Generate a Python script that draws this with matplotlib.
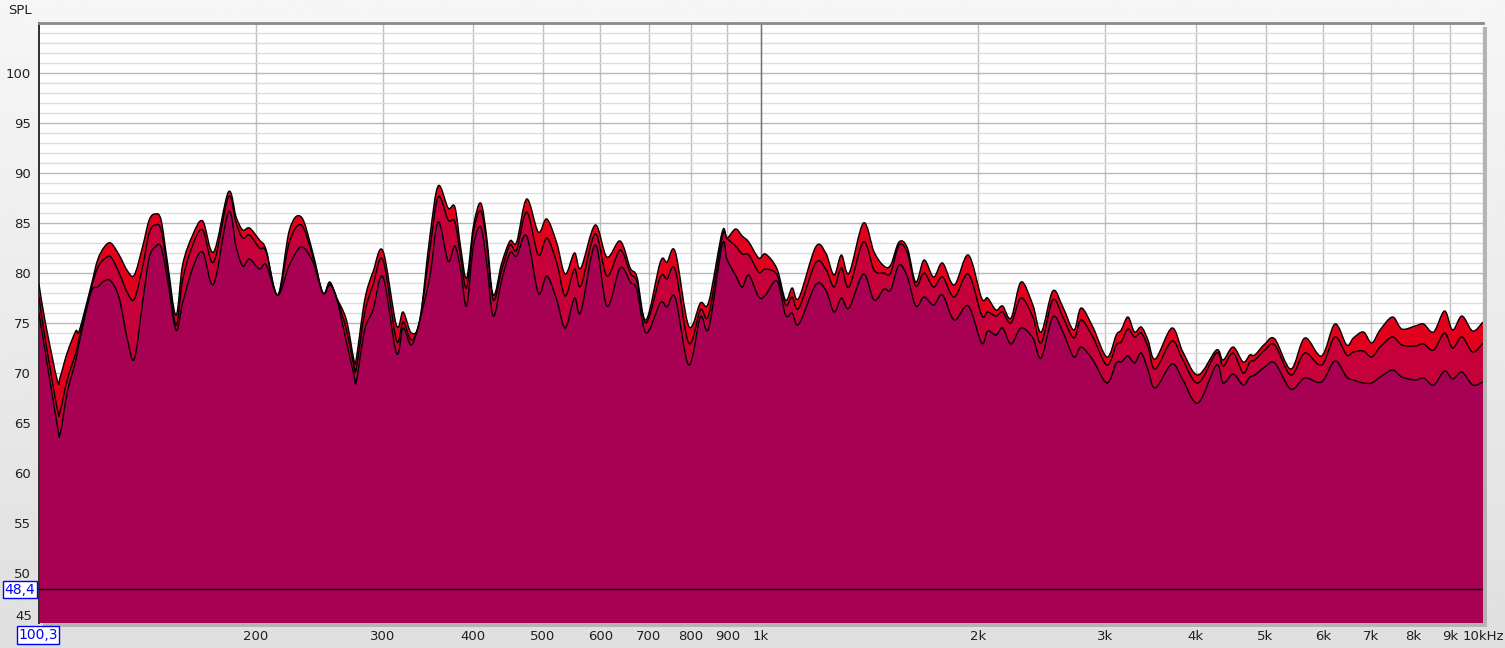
import matplotlib
matplotlib.use("Agg")
import matplotlib.pyplot as plt
from matplotlib.path import Path
from matplotlib.patches import PathPatch, Rectangle
import numpy as np

# Frequencies (Hz) and SPL (dB) of the three traces.
freq = [100.3, 102.2, 106.3, 107.3, 109.7, 112.8, 114.0, 118.3, 120.9, 123.5,
        126.1, 129.5, 133.0, 135.9, 139.5, 142.5, 145.3, 148.0, 151.1, 155.2,
        158.5, 163.7, 169.0, 175.0, 183.4, 188.0, 192.0, 196.2, 202.5, 206.9,
        214.7, 222.8, 231.4, 240.1, 247.9, 253.3, 258.7, 267.2, 273.7, 275.8,
        283.2, 290.8, 300.2, 313.3, 320.1, 328.7, 337.6, 348.5, 357.9, 369.5,
        377.5, 384.5, 391.9, 400.3, 409.8, 417.8, 426.6, 438.3, 450.0, 459.7,
        474.6, 492.5, 506.0, 522.4, 536.5, 552.6, 564.0, 590.4, 612.9, 639.3,
        660.2, 674.5, 694.2, 726.6, 742.3, 762.2, 795.4, 825.6, 847.8, 885.0,
        899.1, 923.3, 943.3, 963.2, 994.3, 1016, 1054, 1083, 1106, 1130,
        1192, 1231, 1264, 1294, 1326, 1388, 1436, 1482, 1514, 1555,
        1597, 1640, 1684, 1736, 1786, 1854, 1939, 2023, 2062, 2118,
        2163, 2222, 2294, 2382, 2446, 2538, 2621, 2714, 2778, 2884,
        3016, 3107, 3157, 3225, 3294, 3365, 3438, 3519, 3710, 3843,
        4032, 4276, 4368, 4510, 4656, 4756, 4832, 4989, 5150, 5420,
        5667, 5978, 6238, 6476, 6616, 6831, 7015, 7203, 7494, 7720,
        8054, 8274, 8543, 8847, 9076, 9351, 9677, 10000]

spl_top = [78.9, 75.3, 69.3, 69.6, 72.0, 74.2, 74.2, 78.6, 81.3, 82.6,
           83.0, 81.8, 80.2, 79.8, 82.6, 85.3, 85.9, 85.3, 81.0, 75.8,
           80.8, 83.8, 85.2, 82.1, 88.1, 85.6, 84.3, 84.5, 83.3, 82.3,
           77.8, 84.3, 85.6, 82.0, 78.0, 79.1, 77.6, 75.3, 71.3, 71.5,
           77.3, 80.1, 82.2, 74.8, 76.1, 74.0, 75.3, 83.6, 88.7, 86.5,
           86.6, 82.6, 79.5, 84.6, 87.0, 83.6, 77.8, 81.0, 83.2, 83.1,
           87.4, 84.1, 85.4, 83.0, 79.9, 82.0, 80.5, 84.8, 81.6, 83.2,
           80.5, 79.6, 75.3, 81.1, 81.1, 82.1, 74.7, 77.0, 77.1, 84.1,
           83.5, 84.4, 83.7, 83.1, 81.5, 81.9, 80.4, 77.3, 78.5, 77.5,
           82.6, 82.0, 79.8, 81.8, 80.0, 85.0, 82.1, 80.7, 80.8, 83.1,
           82.5, 79.1, 81.3, 79.6, 81.0, 78.8, 81.8, 77.5, 77.5, 76.3,
           76.7, 75.5, 79.1, 76.8, 74.1, 78.2, 76.6, 74.3, 76.5, 74.6,
           71.6, 73.8, 74.3, 75.6, 74.1, 74.6, 73.3, 71.4, 74.5, 72.1,
           69.8, 72.3, 71.3, 72.6, 71.1, 71.8, 71.8, 72.9, 73.4, 70.4,
           73.5, 71.7, 74.9, 72.8, 73.5, 74.1, 73.0, 74.3, 75.6, 74.4,
           74.7, 74.9, 74.1, 76.2, 74.3, 75.7, 74.2, 75.1]

spl_mid = [77.6, 73.6, 66.4, 66.2, 69.3, 72.0, 73.5, 78.3, 80.5, 81.4,
           81.6, 80.0, 78.0, 77.4, 80.6, 84.0, 84.8, 84.3, 80.3, 74.8,
           79.3, 82.8, 84.3, 81.1, 87.6, 85.0, 83.5, 83.8, 82.5, 82.1,
           77.8, 83.1, 84.8, 81.6, 78.0, 79.0, 77.6, 74.3, 70.7, 70.5,
           76.0, 78.8, 81.3, 73.3, 75.1, 73.3, 75.3, 82.3, 87.6, 85.3,
           85.1, 81.6, 78.5, 84.0, 86.2, 83.0, 77.3, 80.3, 82.8, 82.3,
           86.1, 81.8, 83.5, 81.0, 77.7, 80.4, 78.7, 83.9, 79.7, 82.3,
           80.0, 79.1, 75.0, 79.6, 79.4, 80.3, 73.0, 76.3, 75.8, 83.6,
           83.4, 82.7, 81.9, 81.8, 80.1, 80.4, 79.8, 76.8, 77.6, 76.5,
           81.0, 80.4, 78.6, 80.5, 78.6, 83.1, 80.3, 80.0, 80.0, 82.8,
           82.0, 78.7, 80.0, 78.6, 79.6, 77.6, 79.9, 75.8, 76.1, 75.7,
           76.1, 75.0, 77.5, 75.6, 73.0, 77.3, 75.6, 73.5, 75.3, 73.6,
           70.8, 72.8, 73.1, 74.4, 73.6, 74.0, 72.6, 70.4, 73.2, 71.3,
           69.0, 72.0, 70.7, 72.0, 70.0, 71.1, 71.3, 72.3, 72.8, 69.8,
           72.0, 70.8, 73.6, 71.8, 72.1, 72.2, 71.6, 72.6, 73.6, 72.8,
           72.7, 72.9, 72.3, 74.0, 72.5, 73.6, 72.1, 73.0]

spl_bot = [76.0, 72.3, 64.8, 63.9, 68.0, 71.3, 73.0, 78.0, 78.6, 79.2,
           79.2, 77.5, 73.3, 71.4, 77.0, 81.5, 82.6, 82.6, 79.3, 74.3,
           77.0, 80.5, 82.1, 78.9, 86.1, 82.6, 80.7, 81.4, 80.4, 80.8,
           77.8, 80.8, 82.6, 81.1, 78.0, 78.8, 77.6, 73.1, 69.8, 69.2,
           74.3, 76.3, 79.6, 72.0, 74.5, 72.8, 75.3, 79.6, 85.1, 81.2,
           82.7, 80.3, 76.7, 82.6, 84.6, 81.0, 75.7, 79.3, 82.0, 81.7,
           83.7, 78.0, 79.7, 77.3, 74.5, 77.5, 76.1, 82.8, 76.7, 80.5,
           79.1, 78.3, 74.0, 77.0, 76.6, 77.5, 70.8, 75.6, 74.5, 82.8,
           81.3, 79.8, 78.6, 79.8, 77.6, 77.8, 79.2, 75.8, 76.0, 74.9,
           78.8, 78.3, 76.1, 77.5, 76.5, 79.9, 77.3, 78.4, 78.3, 80.8,
           79.6, 76.7, 77.6, 76.8, 77.8, 75.3, 76.7, 73.0, 74.2, 73.8,
           74.5, 72.9, 74.5, 73.5, 71.5, 75.6, 74.1, 71.6, 72.6, 71.3,
           69.0, 71.0, 71.1, 71.7, 71.0, 72.0, 70.3, 68.5, 70.9, 69.3,
           67.0, 70.8, 69.0, 69.9, 68.8, 69.6, 69.8, 70.6, 71.0, 68.4,
           69.5, 69.1, 71.2, 69.6, 69.3, 69.0, 69.0, 69.6, 70.3, 69.6,
           69.3, 69.5, 68.8, 70.2, 69.4, 70.1, 68.8, 69.1]

xtick_freqs = [200, 300, 400, 500, 600, 700, 800, 900, 1000,
               2000, 3000, 4000, 5000, 6000, 7000, 8000, 9000, 10000]
xtick_labels = ["200", "300", "400", "500", "600", "700", "800", "900", "1k",
                "2k", "3k", "4k", "5k", "6k", "7k", "8k", "9k", "10kHz"]
ytick_vals = [50, 55, 60, 65, 70, 75, 80, 85, 90, 95, 100]
cursor_freq = 100.3
cursor_spl = 48.4
floor_spl = 45


def smooth_path(f, s):
    # Curve through the read points as cubic Bezier segments (Catmull-Rom
    # tangents in log-frequency space); returns vertices and codes.
    lx = np.log10(np.asarray(f, dtype=float))
    y = np.asarray(s, dtype=float)
    p = np.column_stack([lx, y])
    pp = np.vstack([p[0], p, p[-1]])
    verts = [p[0]]
    codes = [Path.MOVETO]
    for i in range(len(p) - 1):
        a, b, c, d = pp[i], pp[i + 1], pp[i + 2], pp[i + 3]
        c1 = b + (c - a) / 6.0
        c2 = c - (d - b) / 6.0
        verts += [c1, c2, c]
        codes += [Path.CURVE4] * 3
    verts = np.array(verts)
    verts[:, 0] = 10 ** verts[:, 0]
    return verts, codes


W, H = 1505, 648
fig = plt.figure(figsize=(W / 100, H / 100), dpi=100)

# Window background: light vertical gradient.
bg = fig.add_axes([0, 0, 1, 1], zorder=-10)
bg.imshow(np.linspace(0.965, 0.875, 256).reshape(-1, 1), cmap="gray", vmin=0, vmax=1,
          aspect="auto", extent=[0, 1, 0, 1])
bg.set_axis_off()

# Drop shadow to the right of and below the plot area.
fig.patches.append(Rectangle(((39 + 4) / W, 1 - (623 + 4) / H), 1444 / W, 600 / H,
                             transform=fig.transFigure, facecolor="#b4b4b4",
                             edgecolor="none", zorder=-5))

ax = fig.add_axes([39 / W, 1 - 623 / H, 1444 / W, 600 / H])
ax.set_facecolor("white")
ax.set_xscale("log")
ax.set_xlim(100.3, 10000)
ax.set_ylim(floor_spl, 105)

# Grid: 1 dB minor, 5 dB major, vertical lines at each frequency tick.
ax.set_axisbelow(True)
ax.set_yticks(ytick_vals)
ax.set_yticks(range(45, 106), minor=True)
ax.set_xticks(xtick_freqs)
ax.set_xticklabels(xtick_labels)
ax.set_xticks([], minor=True)
ax.grid(True, which="major", axis="y", color="#b8b8b8", linewidth=1.0)
ax.grid(True, which="minor", axis="y", color="#dcdcdc", linewidth=1.0)
ax.grid(True, which="major", axis="x", color="#c0c0c0", linewidth=1.0)
ax.axvline(1000, color="#707070", linewidth=1.0, zorder=0.6)

# The three traces, filled down to the floor, drawn back to front.
colours = ["#e3001d", "#c6003a", "#a80052"]
for spl, colour in zip([spl_top, spl_mid, spl_bot], colours):
    verts, codes = smooth_path(freq, spl)
    fill_verts = np.vstack([verts, [[freq[-1], floor_spl], [freq[0], floor_spl], verts[0]]])
    fill_codes = codes + [Path.LINETO, Path.LINETO, Path.CLOSEPOLY]
    ax.add_patch(PathPatch(Path(fill_verts, fill_codes), facecolor=colour,
                           edgecolor="none", zorder=2))
    ax.add_patch(PathPatch(Path(verts, codes), facecolor="none",
                           edgecolor="black", linewidth=1.0, zorder=3))

# Cursor level line.
ax.axhline(cursor_spl, color="black", linewidth=1.0, zorder=4)

# Axes styling.
ax.tick_params(which="both", length=0, labelsize=9.5, colors="#202020", pad=6)
ax.tick_params(axis="x", pad=5)
for name in ["right", "bottom"]:
    ax.spines[name].set_visible(False)
ax.spines["left"].set_color("#303030")
ax.spines["left"].set_linewidth(1.4)
ax.spines["top"].set_color("#8a8a8a")
ax.spines["top"].set_linewidth(2.0)

# Floor label sits a little above the cursor-frequency box.
fig.text(32 / W, 1 - 616 / H, str(floor_spl), fontsize=9.5, color="#202020",
         ha="right", va="center")
fig.text(8 / W, 1 - 11 / H, "SPL", fontsize=9.5, color="#202020", va="center")

box = dict(boxstyle="square,pad=0.12", facecolor="white", edgecolor="#0000ff", linewidth=1.0)
fig.text(20 / W, 1 - 589.5 / H, f"{cursor_spl:.1f}".replace(".", ","), fontsize=10,
         color="#0000ff", ha="center", va="center", bbox=box)
fig.text(38 / W, 1 - 635 / H, f"{cursor_freq:.1f}".replace(".", ","), fontsize=10,
         color="#0000ff", ha="center", va="center", bbox=box)

fig.savefig("out.png", dpi=100)
